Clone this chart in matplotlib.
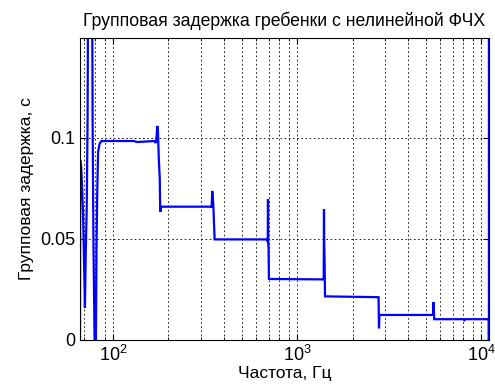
import matplotlib
matplotlib.use("Agg")
import matplotlib.pyplot as plt
from matplotlib.ticker import LogLocator, FixedLocator, FuncFormatter

# group delay curve (Hz, seconds)
freq_hz = [66.2, 66.4, 67.2, 68.0, 68.8, 69.6, 70.4, 71.2, 72.0, 72.8,
           73.7, 75.1, 76.6, 77.5, 78.3, 79.2, 80.0, 80.8, 81.4, 82.2,
           83.0, 84.5, 86.5, 130.0, 135.0, 168.7, 170.5, 172.0, 174.0, 175.5,
           177.3, 179.5, 180.5, 181.5, 182.5, 341.6, 343.5, 346.0, 348.5, 351.0,
           353.7, 356.5, 691.0, 693.0, 695.0, 697.0, 700.0, 703.0, 1388.0, 1395.0,
           1400.0, 1403.0, 1410.0, 1418.0, 2751.0, 2770.0, 2785.0, 2800.0, 5434.0, 5470.0,
           5500.0, 5530.0, 5560.0, 8000.0, 8093.0, 8200.0, 11000.0, 11012.0, 11025.0]
delay_s = [0.0, 0.089, 0.086, 0.075, 0.062, 0.040, 0.016, 0.045, 0.065, 0.11,
           0.25, 0.40, 0.25, 0.11, 0.05, 0.01, -0.02, 0.0, 0.047, 0.075,
           0.093, 0.097, 0.0985, 0.0985, 0.098, 0.0985, 0.0975, 0.099, 0.106, 0.103,
           0.090, 0.080, 0.064, 0.0635, 0.066, 0.066, 0.0655, 0.0738, 0.0705, 0.066,
           0.058, 0.0498, 0.0498, 0.0485, 0.0697, 0.048, 0.045, 0.0302, 0.030, 0.030,
           0.0647, 0.050, 0.040, 0.0216, 0.0212, 0.0212, 0.0058, 0.0124, 0.0124, 0.0124,
           0.0188, 0.0150, 0.0103, 0.0103, 0.0098, 0.0103, 0.0103, -0.05, 0.5]

y_ticks = [0, 0.05, 0.1]
x_limits = [66.2, 11025]
y_limits = [0, 0.1495]


def main():
    plt.rcParams['font.family'] = ['Liberation Sans', 'DejaVu Sans']
    plt.rcParams['mathtext.fontset'] = 'custom'
    plt.rcParams['mathtext.rm'] = 'Liberation Sans'

    fig = plt.figure(figsize=(4.95, 3.9), dpi=100)
    ax = fig.add_axes([80 / 495, 50 / 390, 409 / 495, 302 / 390])

    ax.plot(freq_hz, delay_s, color=(0, 0, 1), lw=1.6, solid_joinstyle='miter')

    ax.set_xscale('log')
    ax.set_xlim(x_limits)
    ax.set_ylim(y_limits)
    ax.xaxis.set_major_locator(LogLocator(base=10))
    ax.xaxis.set_minor_locator(LogLocator(base=10, subs=range(2, 10)))
    ax.yaxis.set_major_locator(FixedLocator(y_ticks))
    ax.yaxis.set_major_formatter(FuncFormatter(lambda v, p: "%g" % v))

    grid_style = dict(color='black', linestyle=(0, (2, 3)), linewidth=0.6)
    ax.grid(True, which='major', axis='both', **grid_style)
    ax.grid(True, which='minor', axis='x', **grid_style)

    ax.tick_params(which='both', direction='in', top=True, right=True,
                   color='black', labelsize=13)
    ax.tick_params(which='major', length=4)
    ax.tick_params(which='minor', length=2)
    for s in ax.spines.values():
        s.set_linewidth(0.8)

    ax.set_title("Групповая задержка гребенки с нелинейной ФЧХ", fontsize=12.7, pad=9)
    ax.set_xlabel("Частота, Гц", fontsize=12.5, labelpad=1)
    ax.set_ylabel("Групповая задержка, с", fontsize=12.5, labelpad=4)

    fig.savefig("out.png", dpi=100)


if __name__ == "__main__":
    main()
